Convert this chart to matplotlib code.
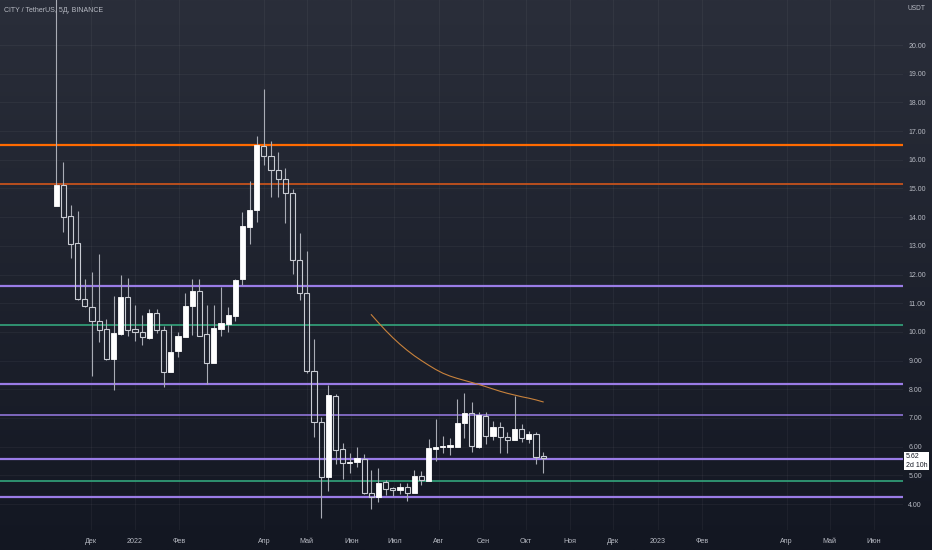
import numpy as np
import pandas as pd
import matplotlib
matplotlib.use("Agg")
import matplotlib.pyplot as plt
import matplotlib.dates as mdates
import matplotlib.transforms as mtransforms
from datetime import datetime

# ---------------- data ----------------
title = "CITY / TetherUS, 5Д, BINANCE"
candle_dates = pd.date_range("2021-11-07", periods=69, freq="5D")

opens = [14.39, 15.12, 14.04, 13.09, 11.15, 10.87, 10.37, 10.10, 9.07, 9.93,
         11.23, 10.10, 9.99, 9.79, 10.65, 10.07, 8.61, 9.33, 9.84, 10.90,
         11.42, 9.93, 8.93, 10.09, 10.28, 10.55, 11.83, 13.67, 14.25, 16.49,
         16.14, 15.64, 15.32, 14.83, 12.51, 11.35, 8.64, 6.87, 4.95, 7.78,
         5.91, 5.42, 5.45, 5.58, 4.40, 4.26, 4.76, 4.55, 4.49, 4.60,
         4.40, 4.99, 4.80, 5.93, 5.98, 6.00, 6.00, 6.81, 7.16, 6.00,
         7.08, 6.37, 6.68, 6.35, 6.23, 6.62, 6.28, 6.44, 5.67]
closes = [15.12, 14.02, 13.07, 11.14, 10.89, 10.39, 10.08, 9.05, 9.95, 11.23,
          10.08, 10.00, 9.81, 10.65, 10.05, 8.62, 9.29, 9.87, 10.90, 11.42,
          9.86, 8.93, 10.14, 10.30, 10.59, 11.81, 13.70, 14.25, 16.51, 16.13,
          15.64, 15.32, 14.83, 12.51, 11.35, 8.64, 6.86, 4.95, 7.80, 5.88,
          5.42, 5.48, 5.59, 4.40, 4.26, 4.72, 4.51, 4.49, 4.60, 4.40,
          4.98, 4.84, 5.94, 5.99, 6.03, 6.06, 6.84, 7.16, 6.02, 7.10,
          6.37, 6.69, 6.33, 6.23, 6.62, 6.30, 6.44, 5.65, 5.62]
highs = [24.0, 15.91, 14.43, 14.21, 11.83, 12.08, 12.70, 10.44, 11.25, 11.99,
         11.88, 10.94, 10.58, 10.79, 10.79, 10.22, 10.24, 9.99, 11.37, 11.83,
         11.84, 10.94, 10.94, 11.58, 10.88, 11.84, 14.19, 15.26, 16.83, 18.46,
         16.65, 16.28, 15.70, 14.98, 13.44, 12.83, 9.74, 7.04, 8.15, 7.84,
         6.12, 5.79, 6.00, 5.74, 5.19, 5.25, 4.84, 4.60, 4.72, 4.72,
         5.19, 5.16, 6.27, 6.96, 6.38, 6.31, 7.65, 7.88, 7.57, 7.22,
         7.22, 6.91, 6.87, 6.52, 7.78, 6.79, 6.55, 6.52, 5.82]
lows = [14.39, 13.49, 12.59, 11.11, 10.86, 8.47, 9.65, 9.02, 7.98, 9.89,
        9.87, 9.67, 9.53, 9.75, 9.95, 8.09, 8.60, 9.14, 9.84, 9.89,
        9.86, 8.18, 8.93, 9.86, 10.01, 10.39, 11.63, 13.06, 13.84, 15.81,
        14.69, 14.69, 13.81, 12.02, 11.11, 8.56, 6.33, 3.50, 4.47, 5.40,
        4.86, 5.09, 5.30, 4.34, 3.82, 4.08, 4.32, 4.28, 4.35, 4.12,
        4.40, 4.66, 4.80, 5.50, 5.77, 5.71, 6.00, 6.29, 5.80, 5.96,
        6.09, 6.23, 5.77, 5.77, 6.23, 6.17, 6.12, 5.40, 5.09]

# moving-average-like curve (starts at candle 45)
ma_start = 44
ma_values = [10.60, 10.32, 10.05, 9.80, 9.57, 9.36, 9.17, 9.00, 8.84, 8.69,
             8.56, 8.46, 8.38, 8.31, 8.24, 8.17, 8.09, 8.01, 7.93, 7.86,
             7.80, 7.74, 7.69, 7.63, 7.56]

orange_levels = [16.53]
dark_orange_levels = [15.17]
purple_thick_levels = [11.60, 8.17, 5.58, 4.26]
purple_thin_levels = [7.11]
green_levels = [10.25, 4.79]

price_ticks = [4, 5, 6, 7, 8, 9, 10, 11, 12, 13, 14, 15, 16, 17, 18, 19, 20]
month_tick_dates = ["2021-12-01", "2022-01-01", "2022-02-01", "2022-04-01",
                    "2022-05-01", "2022-06-01", "2022-07-01", "2022-08-01",
                    "2022-09-01", "2022-10-01", "2022-11-01", "2022-12-01",
                    "2023-01-01", "2023-02-01", "2023-04-01", "2023-05-01",
                    "2023-06-01"]
month_tick_labels = ["Дек", "2022", "Фев", "Апр", "Май", "Июн", "Июл", "Авг",
                     "Сен", "Окт", "Ноя", "Дек", "2023", "Фев", "Апр", "Май",
                     "Июн"]
last_price = 5.62
last_label = "5.62\n2d 10h"

# ---------------- style ----------------
FONT = ["Liberation Sans Narrow", "Liberation Sans", "DejaVu Sans"]
plt.rcParams["font.family"] = FONT
TXT = "#b7bac3"
W, H = 932, 550
fig = plt.figure(figsize=(W / 100, H / 100), dpi=100)

# gradient background
bg = fig.add_axes([0, 0, 1, 1], zorder=-10)
top = np.array([42, 46, 58]) / 255.0
bot = np.array([19, 23, 34]) / 255.0
t = np.linspace(0, 1, 256)[:, None]
grad = top[None, None, :] * (1 - t[:, :, None]) + bot[None, None, :] * t[:, :, None]
grad = np.repeat(grad, 2, axis=1)
bg.imshow(grad, aspect="auto", extent=[0, 1, 0, 1])
bg.axis("off")

plot_right = 903 / W
plot_bottom_px = 530
ax = fig.add_axes([0, (H - plot_bottom_px) / H, plot_right, plot_bottom_px / H])
ax.set_facecolor("none")
for s in ax.spines.values():
    s.set_visible(False)

x = mdates.date2num(candle_dates.to_pydatetime())
jan1 = mdates.date2num(datetime(2022, 1, 1))
ax.set_xlim(jan1 - 94.3, jan1 + 536.3)
ax.set_ylim(3.095, 21.57)

# grid
grid_c = (1, 1, 1, 0.045)
tick_x = mdates.date2num([datetime.strptime(d, "%Y-%m-%d") for d in month_tick_dates])
for p in price_ticks:
    ax.axhline(p, color=grid_c, lw=0.7, zorder=0)
for tx in tick_x:
    ax.axvline(tx, color=grid_c, lw=0.7, zorder=0)

# horizontal levels
for lv in orange_levels:
    ax.axhline(lv, color="#ff6a00", lw=1.6, zorder=1)
for lv in dark_orange_levels:
    ax.axhline(lv, color="#c4521c", lw=1.3, zorder=1)
for lv in purple_thick_levels:
    ax.axhline(lv, color="#9a7ce6", lw=1.6, zorder=1)
for lv in purple_thin_levels:
    ax.axhline(lv, color="#9a7ce6", lw=1.1, zorder=1)
for lv in green_levels:
    ax.axhline(lv, color="#33a57c", lw=1.2, zorder=1)

# candles
o = np.array(opens); c = np.array(closes); hi = np.array(highs); lo = np.array(lows)
body_lo = np.minimum(o, c); body_hi = np.maximum(o, c)
wick_c = "#a9acb5"
ax.vlines(x, body_hi, hi, color=wick_c, lw=0.8, zorder=2)
ax.vlines(x, lo, body_lo, color=wick_c, lw=0.8, zorder=2)
up = c >= o
bw = 3.6
ax.bar(x[up], (body_hi - body_lo)[up], bottom=body_lo[up], width=bw,
       color="#ffffff", edgecolor="#ffffff", lw=0.6, zorder=3)
ax.bar(x[~up], (body_hi - body_lo)[~up], bottom=body_lo[~up], width=bw,
       facecolor="none", edgecolor="#c9ccd3", lw=0.8, zorder=3)

# curve
ax.plot(x[ma_start:ma_start + len(ma_values)], ma_values, color="#c8823c",
        lw=0.8, zorder=2)

# axes ticks
ax.yaxis.tick_right()
ax.set_yticks(price_ticks)
ax.set_yticklabels([f"{p:.2f}" for p in price_ticks])
ax.tick_params(axis="y", length=0, pad=3.8, labelsize=5.0, labelcolor=TXT)
ax.set_xticks(tick_x)
ax.set_xticklabels(month_tick_labels)
ax.tick_params(axis="x", length=0, pad=5.5, labelsize=5.1, labelcolor=TXT)

# last price label
blend = mtransforms.blended_transform_factory(ax.transAxes, ax.transData)
ax.annotate(last_label, xy=(1, last_price), xycoords=blend,
            xytext=(2.2, 3.0), textcoords="offset points", ha="left", va="top",
            fontsize=5.0, color="#131722", linespacing=1.25,
            bbox=dict(boxstyle="square,pad=0.25", fc="white", ec="none"),
            annotation_clip=False, zorder=10)

# header texts
fig.text(4 / W, 1 - 11 / H, title, fontsize=5.0, color=TXT, ha="left", va="center")
fig.text(908 / W, 1 - 9 / H, "USDT", fontsize=4.8, color=TXT, ha="left", va="center")

fig.savefig("out.png", dpi=100)
